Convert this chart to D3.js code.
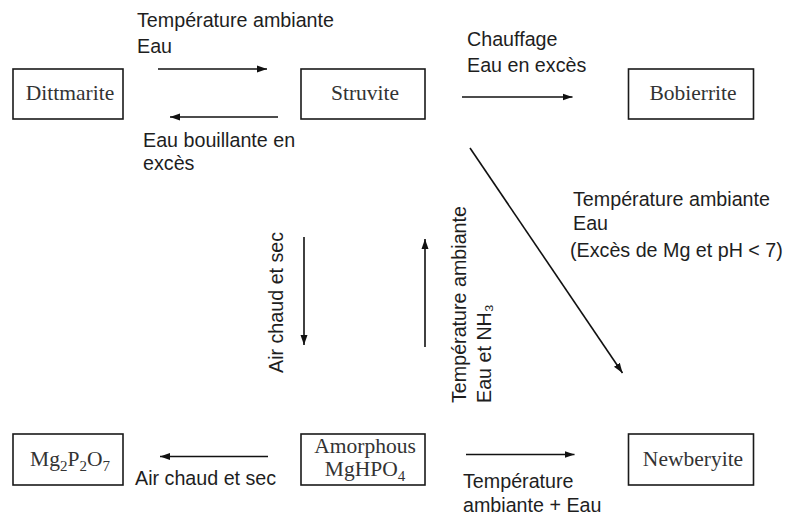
<!DOCTYPE html>
<html>
<head>
<meta charset="utf-8">
<script src="https://cdn.jsdelivr.net/npm/d3@7/dist/d3.min.js"></script>
<style>
  html, body { margin: 0; padding: 0; background: #fff; }
  svg { display: block; }
</style>
</head>
<body>
<svg id="chart" width="787" height="520"></svg>
<script>
// ---- data ----
const columns = ["left", "middle", "right"];
const rows = ["top", "bottom"];
const nodeNames = ["Dittmarite", "Struvite", "Bobierrite", "Mg2P2O7", "Amorphous MgHPO4", "Newberyite"];
const nodeCells = [["left","top"],["middle","top"],["right","top"],["left","bottom"],["middle","bottom"],["right","bottom"]];
// label lines; segments marked "sub" are subscripts
const nodeLines = [
  [[["", "Dittmarite"]]],
  [[["", "Struvite"]]],
  [[["", "Bobierrite"]]],
  [[["", "Mg"],["sub","2"],["", "P"],["sub","2"],["", "O"],["sub","7"]]],
  [[["", "Amorphous"]], [["", "MgHPO"],["sub","4"]]],
  [[["", "Newberyite"]]]
];
const transitions = [
  ["Dittmarite", "Struvite"],
  ["Struvite", "Dittmarite"],
  ["Struvite", "Bobierrite"],
  ["Struvite", "Newberyite"],
  ["Struvite", "Amorphous MgHPO4"],
  ["Amorphous MgHPO4", "Struvite"],
  ["Amorphous MgHPO4", "Mg2P2O7"],
  ["Amorphous MgHPO4", "Newberyite"]
];
const transitionLabels = [
  ["Température ambiante", "Eau"],
  ["Eau bouillante en", "excès"],
  ["Chauffage", "Eau en excès"],
  ["Température ambiante", "Eau", "(Excès de Mg et pH < 7)"],
  ["Air chaud et sec"],
  ["Température ambiante", "Eau et NH₃"],
  ["Air chaud et sec"],
  ["Température", "ambiante + Eau"]
];

// ---- layout ----
const svg = d3.select("#chart");
const x = d3.scaleOrdinal().domain(columns).range([68, 363, 691]);
const y = d3.scaleOrdinal().domain(rows).range([94, 459.5]);
const boxW = d3.scaleOrdinal().domain(columns).range([110, 124, 125]);
const boxH = d3.scaleOrdinal().domain(rows).range([50, 51]);
const sans = "'Liberation Sans', Arial, sans-serif";
const serif = "'Liberation Serif', 'Times New Roman', serif";
const ink = "#111";

svg.append("defs").append("marker")
  .attr("id", "head").attr("viewBox", "0 0 10 10")
  .attr("refX", 10).attr("refY", 5)
  .attr("markerWidth", 10).attr("markerHeight", 10)
  .attr("markerUnits", "userSpaceOnUse")
  .attr("orient", "auto")
  .append("path").attr("d", "M0,1.5 L10,5 L0,8.5 Z").attr("fill", ink);

const nodes = nodeNames.map((n, i) => {
  const col = nodeCells[i][0], row = nodeCells[i][1];
  const cx = x(col), cy = y(row), w = boxW(col), h = boxH(row);
  return { name: n, col, row, lines: nodeLines[i], cx, cy, w, h,
           left: cx - w / 2, right: cx + w / 2, top: cy - h / 2, bottom: cy + h / 2 };
});
const byName = Object.fromEntries(nodes.map(n => [n.name, n]));

// boxes
const ng = svg.selectAll("g.node").data(nodes).enter().append("g")
  .attr("transform", d => `translate(${d.cx},${d.cy})`);
ng.append("rect")
  .attr("x", d => -d.w / 2).attr("y", d => -d.h / 2)
  .attr("width", d => d.w).attr("height", d => d.h)
  .attr("fill", "none").attr("stroke", "#1a1a1a").attr("stroke-width", 1.6);
ng.each(function(d) {
  const sel = d3.select(this);
  const n = d.lines.length;
  d.lines.forEach((line, li) => {
    const t = sel.append("text")
      .attr("x", 2).attr("y", n === 1 ? 6 : -6.5 + li * 23)
      .attr("text-anchor", "middle")
      .attr("font-family", serif).attr("font-size", 21.5).attr("fill", "#333");
    line.forEach(([kind, txt], k) => {
      const ts = t.append("tspan").text(txt);
      if (kind === "sub") ts.attr("font-size", 15).attr("dy", 5);
      else if (k > 0 && line[k - 1][0] === "sub") ts.attr("dy", -5);
    });
  });
});

// arrow geometry from box edges: gaps away from each box and offset across
const arrowLayout = [
  {k: "h", g0: 35, g1: 34, dy: -25},
  {k: "h", g0: 23, g1: 47, dy: 23},
  {k: "h", g0: 37, g1: 56, dy: 3},
  {k: "d", s: [45, 29], e: [-6, -61]},
  {k: "v", dx: -59, g0: 118, g1: 89},
  {k: "v", dx: 62, g0: 87, g1: 120},
  {k: "h", g0: 33, g1: 37, dy: -3},
  {k: "h", g0: 41, g1: 54, dy: -5}
];
function arrowGeom(i) {
  const a = byName[transitions[i][0]], b = byName[transitions[i][1]];
  const L = arrowLayout[i];
  if (L.k === "h") {
    const yy = a.cy + L.dy;
    if (b.cx > a.cx) return [a.right + L.g0, yy, b.left - L.g1, yy];
    return [a.left - L.g0, yy, b.right + L.g1, yy];
  }
  if (L.k === "v") {
    const xx = a.cx + L.dx;
    if (b.cy > a.cy) return [xx, a.bottom + L.g0, xx, b.top - L.g1];
    return [xx, a.top - L.g0, xx, b.bottom + L.g1];
  }
  return [a.right + L.s[0], a.bottom + L.s[1], b.left + L.e[0], b.top + L.e[1]];
}
const arrows = transitions.map((t, i) => arrowGeom(i));

svg.append("g").selectAll("line").data(arrows).enter().append("line")
  .attr("x1", d => d[0]).attr("y1", d => d[1]).attr("x2", d => d[2]).attr("y2", d => d[3])
  .attr("stroke", ink).attr("stroke-width", 1.6)
  .attr("marker-end", "url(#head)");

// label anchors relative to arrow start point (x1,y1)
const labelLayout = [
  {dx: -21, dy: -42, lh: 26},
  {dx: -135, dy: 30, lh: 23},
  {dx: 5, dy: -51, lh: 26},
  {dx: 103, dy: 58, lh: 24, third: [-3, 3]},
  {rot: true, dx: -21, dy: 136, lh: 25},
  {rot: true, dx: 41, dy: 56, lh: 25},
  {dx: -133, dy: 28, lh: 24},
  {dx: -3, dy: 33, lh: 24}
];
const texts = svg.append("g").attr("font-family", sans).attr("font-size", 19.7).attr("fill", "#1e1e1e");
transitionLabels.forEach((lines, i) => {
  const [x1, y1] = arrows[i];
  const p = labelLayout[i];
  lines.forEach((ln, k) => {
    if (p.rot) {
      texts.append("text")
        .attr("transform", `translate(${x1 + p.dx + k * p.lh},${y1 + p.dy}) rotate(-90)`)
        .text(ln);
    } else {
      const ex = p.third && k === 2 ? p.third[0] : 0;
      const ey = p.third && k === 2 ? p.third[1] : 0;
      texts.append("text")
        .attr("x", x1 + p.dx + ex)
        .attr("y", y1 + p.dy + k * p.lh + ey)
        .text(ln);
    }
  });
});
</script>
</body>
</html>
